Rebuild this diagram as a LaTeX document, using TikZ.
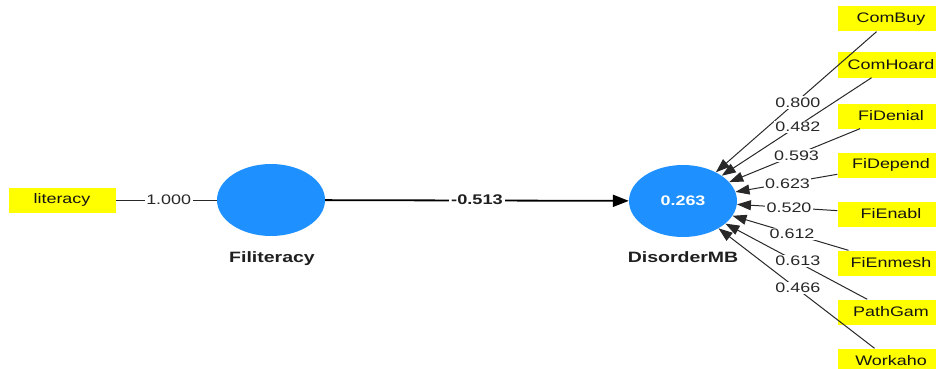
\documentclass[tikz,border=0pt]{standalone}
\usepackage{fontspec}
\setmainfont{Liberation Sans}[FakeStretch=1.3]
\usetikzlibrary{shapes.geometric,arrows.meta}
\definecolor{plsblue}{RGB}{30,144,255}
\definecolor{plsyellow}{RGB}{255,255,0}
\definecolor{inkgray}{RGB}{40,40,40}

\begin{document}
\begin{tikzpicture}[x=1pt,y=-1pt,
  indicator/.style={fill=plsyellow, minimum width=107pt, minimum height=25pt,
    inner sep=0pt, text=black!92, font=\fontsize{13.8}{16}\selectfont},
  construct/.style={ellipse, fill=plsblue, minimum width=108pt,
    minimum height=72pt, inner sep=0pt, text=white,
    font=\bfseries\fontsize{13.8}{16}\selectfont},
  cname/.style={anchor=base, text=black!88, font=\bfseries\fontsize{15}{18}\selectfont},
  loading/.style={fill=white, inner sep=1.5pt, text=inkgray,
    font=\fontsize{13.8}{16}\selectfont},
  pathcoef/.style={fill=white, inner sep=2pt, text=black!88,
    font=\bfseries\fontsize{14}{16}\selectfont},
  outer/.style={draw=inkgray, line width=1pt},
  inner/.style={draw=inkgray, line width=1pt,
    -{Triangle[length=14pt,width=10pt]}},
  structural/.style={draw=black, line width=1.8pt,
    -{Triangle[length=16pt,width=12pt]}}
]
\useasboundingbox (0,0) rectangle (936,369);

% constructs
\node[construct] (fil) at (271,200) {};
\node[construct] (dis) at (683,201) {0.263};
\node[cname] (filname) at (272,262) {Filiteracy};
\node[cname] (disname) at (683,262) {DisorderMB};

% indicators
\node[indicator] (lit) at (62,200) {literacy};
\node[indicator] (i1) at (891,19)  {ComBuy};
\node[indicator] (i2) at (891,65)  {ComHoard};
\node[indicator] (i3) at (891,116) {FiDenial};
\node[indicator] (i4) at (891,165) {FiDepend};
\node[indicator] (i5) at (891,214) {FiEnabl};
\node[indicator] (i6) at (891,263) {FiEnmesh};
\node[indicator] (i7) at (891,312) {PathGam};
\node[indicator] (i8) at (891,361) {Workaho};

% paths
\draw[outer] (lit) -- (fil);
\draw[structural] (fil) -- (dis);
\foreach \i in {1,...,8} {
  \draw[inner] (i\i) -- (dis);
}

% coefficients and loadings
\node[loading] (l0) at (168.7,200) {1.000};
\node[pathcoef] (p1) at (477,200) {-0.513};
\node[loading] (l1) at (797.8,102.5) {0.800};
\node[loading] (l2) at (797.8,127) {0.482};
\node[loading] (l3) at (796.5,155.8) {0.593};
\node[loading] (l4) at (787.5,184) {0.623};
\node[loading] (l5) at (789,207.7) {0.520};
\node[loading] (l6) at (792,234) {0.612};
\node[loading] (l7) at (797.8,261) {0.613};
\node[loading] (l8) at (797.8,288) {0.466};
\end{tikzpicture}
\end{document}
